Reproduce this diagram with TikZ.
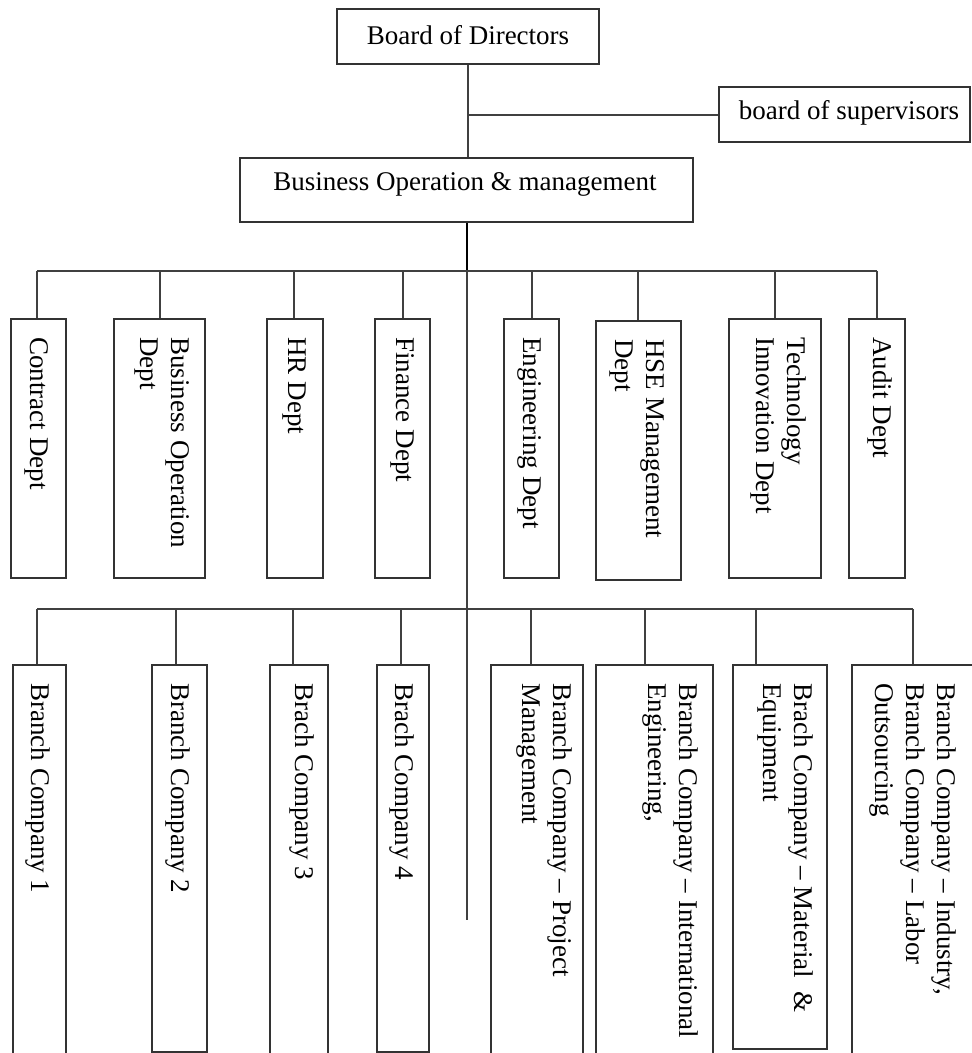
\documentclass[tikz,border=0pt]{standalone}
\usepackage{fontspec}
\setmainfont{Liberation Serif}
\usetikzlibrary{fit}
\begin{document}
\begin{tikzpicture}[x=0.5pt,y=-0.5pt,
  box/.style={draw=black!80, line width=0.9pt, inner sep=0pt, rectangle},
  htext/.style={font=\fontsize{13.5}{15.5}\selectfont, inner sep=0pt},
  vtext/.style={font=\fontsize{13.5}{15.5}\selectfont, rotate=-90, anchor=west, align=left, inner sep=0pt},
  link/.style={draw=black!75, line width=0.75pt},
  trunk/.style={draw=black, line width=1.4pt},
]
\useasboundingbox (0,0) rectangle (972,1053);
\clip (0,0) rectangle (972,1053);

% top level boxes
\node[box, fit={(337,9) (599,64)}] (board) {};
\node[box, fit={(719,87) (970,142)}] (sup) {};
\node[box, fit={(240,158) (693,222)}] (bom) {};
\node[htext] (tboard) at (468,35) {Board of Directors};
\node[htext] (tsup) at (849,113) {board of supervisors};
\node[htext] (tbom) at (465,184) {Business Operation \& management};

% departments
\node[box, fit={(11,319) (66,578)}] (contract) {};
\node[box, fit={(114,319) (205,578)}] (bizop) {};
\node[box, fit={(267,319) (323,578)}] (hr) {};
\node[box, fit={(375,319) (430,578)}] (fin) {};
\node[box, fit={(504,319) (559,578)}] (eng) {};
\node[box, fit={(596,321) (681,580)}] (hse) {};
\node[box, fit={(729,319) (821,578)}] (tech) {};
\node[box, fit={(849,319) (905,578)}] (audit) {};

\node[vtext] (lcontract) at (37,337) {Contract Dept};
\node[vtext] (lbizop) at (162.5,337) {Business Operation\\Dept};
\node[vtext] (lhr) at (294,337) {HR Dept};
\node[vtext] (lfin) at (403,337) {Finance Dept};
\node[vtext] (leng) at (530,337) {Engineering Dept};
\node[vtext] (lhse) at (637,339) {HSE Management\\Dept};
\node[vtext] (ltech) at (778,337) {Technology\\Innovation Dept};
\node[vtext] (laudit) at (880,337) {Audit Dept};

% branch companies
\node[box, fit={(13,665) (66,1075)}] (b1) {};
\node[box, fit={(152,665) (207,1052)}] (b2) {};
\node[box, fit={(270,665) (328,1075)}] (b3) {};
\node[box, fit={(377,665) (429,1052)}] (b4) {};
\node[box, fit={(491,665) (583,1075)}] (bpm) {};
\node[box, fit={(596,665) (713,1075)}] (bint) {};
\node[box, fit={(733,665) (827,1049)}] (bmat) {};
\node[box, fit={(852,665) (990,1075)}] (bind) {};

\node[vtext] (lb1) at (38,683) {Branch Company 1};
\node[vtext] (lb2) at (178,683) {Branch Company 2};
\node[vtext] (lb3) at (302,683) {Brach Company 3};
\node[vtext] (lb4) at (402,683) {Brach Company 4};
\node[vtext] (lbpm) at (544,683) {Branch Company – Project\\Management};
\node[vtext] (lbint) at (670,683) {Branch Company – International\\Engineering,};
\node[vtext] (lbmat) at (785,683) {Brach Company – Material\ \ \&\\Equipment};
\node[vtext] (lbind) at (913,683) {Branch Company – Industry,\\Branch Company – Labor\\Outsourcing};

% connectors
\coordinate (jsup) at (468,115);
\coordinate (hub1) at (467,271);
\coordinate (hub2) at (467,609);
\coordinate (tail) at (467,920);

\draw[link] (board.south) -- (board.south |- bom.north);
\draw[link] (jsup) -- (jsup -| sup.west);
\draw[trunk] (hub1 |- bom.south) -- (hub1);
\draw[link] (hub1) -- (hub2) -- (tail);

\foreach \x/\n in {37/contract,160/bizop,294/hr,403/fin,532/eng,638/hse,775/tech,877/audit}{
  \coordinate (d-\n) at (\x,271);
  \draw[link] (d-\n) -- (d-\n |- \n.north);
}
\draw[link] (d-contract) -- (d-audit);

\foreach \x/\n in {37/b1,176/b2,293/b3,401/b4,531/bpm,645/bint,756/bmat,913/bind}{
  \coordinate (e-\n) at (\x,609);
  \draw[link] (e-\n) -- (e-\n |- \n.north);
}
\draw[link] (e-b1) -- (e-bind);
\end{tikzpicture}
\end{document}
